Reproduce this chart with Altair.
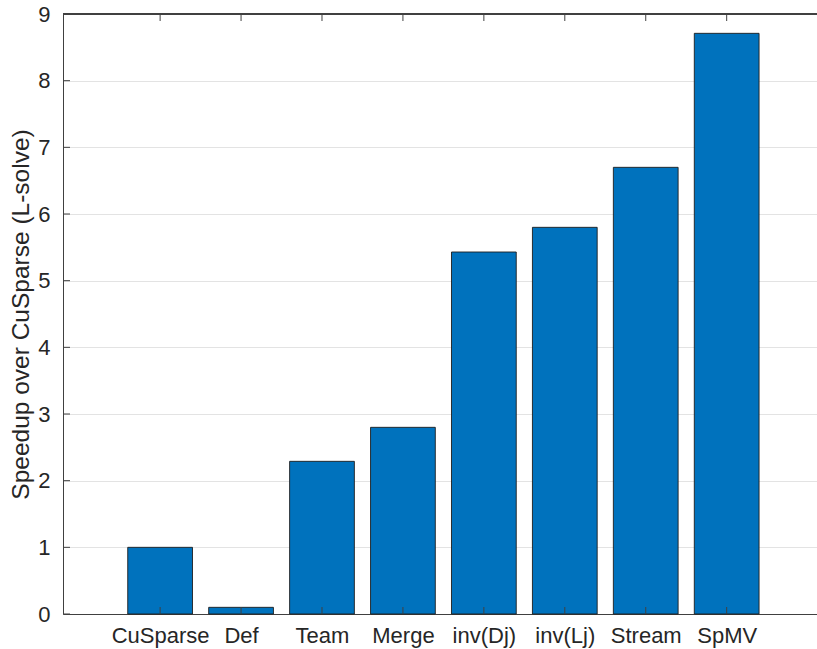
import json
import altair as alt
import pandas as pd

# Speedup of each L-solve variant relative to CuSparse
methods = ["CuSparse", "Def", "Team", "Merge", "inv(Dj)", "inv(Lj)", "Stream", "SpMV"]
speedup = [1.0, 0.1, 2.29, 2.80, 5.43, 5.80, 6.70, 8.71]
positions = list(range(1, len(methods) + 1))
y_ticks = list(range(0, 10))

W, H = 754, 600
BAR_HALF = 0.4
FONT = "Liberation Sans"
TEXT = "#262626"
AXIS = "#404040"
Y_TITLE = "Speedup over CuSparse (L-solve)"

bars_df = pd.DataFrame({"pos": positions, "method": methods, "speedup": speedup})
yt_df = pd.DataFrame({"v": y_ticks})

x_scale = alt.Scale(domain=[-0.2, 9.116], nice=False, zero=False)
y_scale = alt.Scale(domain=[0, 9], nice=False)

label_expr = f"{json.dumps(methods)}[datum.value - 1]"

x_axis = alt.Axis(
    values=positions,
    labelExpr=label_expr,
    grid=False,
    labelPadding=11,
    title=None,
)
y_axis = alt.Axis(
    values=y_ticks,
    grid=True,
    labelPadding=13,
    title=Y_TITLE,
    titleAngle=-90,
    titleX=-42,
    titleY=H / 2,
    titleAlign="center",
    titleBaseline="middle",
)

bars = (
    alt.Chart(bars_df)
    .transform_calculate(x0=f"datum.pos - {BAR_HALF}", x1=f"datum.pos + {BAR_HALF}")
    .mark_rect(color="#0072BD", stroke="#1e1e1e", strokeWidth=0.9)
    .encode(
        x=alt.X("x0:Q", scale=x_scale, axis=x_axis),
        x2="x1:Q",
        y=alt.Y("speedup:Q", scale=y_scale, axis=y_axis),
        y2=alt.datum(0),
    )
)

# inward-pointing tick marks, as on a boxed axes
y_ticks_left = (
    alt.Chart(yt_df)
    .mark_rule(color=AXIS, strokeWidth=1)
    .encode(y=alt.Y("v:Q", scale=y_scale, axis=y_axis), x=alt.value(0), x2=alt.value(7))
)
x_ticks_bottom = (
    alt.Chart(bars_df)
    .mark_rule(color=AXIS, strokeWidth=1)
    .encode(x=alt.X("pos:Q", scale=x_scale, axis=x_axis), y=alt.value(H), y2=alt.value(H - 7))
)
x_ticks_top = (
    alt.Chart(bars_df)
    .mark_rule(color=AXIS, strokeWidth=1)
    .encode(x=alt.X("pos:Q", scale=x_scale, axis=x_axis), y=alt.value(0), y2=alt.value(7))
)
top_border = (
    alt.Chart(bars_df)
    .mark_rule(color=AXIS, strokeWidth=1)
    .encode(x=alt.value(0), x2=alt.value(W), y=alt.value(0))
)

chart = (
    alt.layer(bars, y_ticks_left, x_ticks_bottom, x_ticks_top, top_border)
    .properties(
        width=W,
        height=H,
        autosize=alt.AutoSizeParams(type="none"),
        padding={"left": 63, "top": 14, "right": 0, "bottom": 35},
        background="white",
    )
    .configure_view(stroke=None)
    .configure_axis(
        ticks=False,
        domain=True,
        domainColor=AXIS,
        domainWidth=1,
        gridColor="#e3e3e3",
        gridWidth=1,
        labelFont=FONT,
        labelFontSize=22,
        labelColor=TEXT,
        titleFont=FONT,
        titleFontSize=24.5,
        titleFontWeight="normal",
        titleColor=TEXT,
    )
)

chart.save("out.html", embed_options={"renderer": "svg", "actions": False})
